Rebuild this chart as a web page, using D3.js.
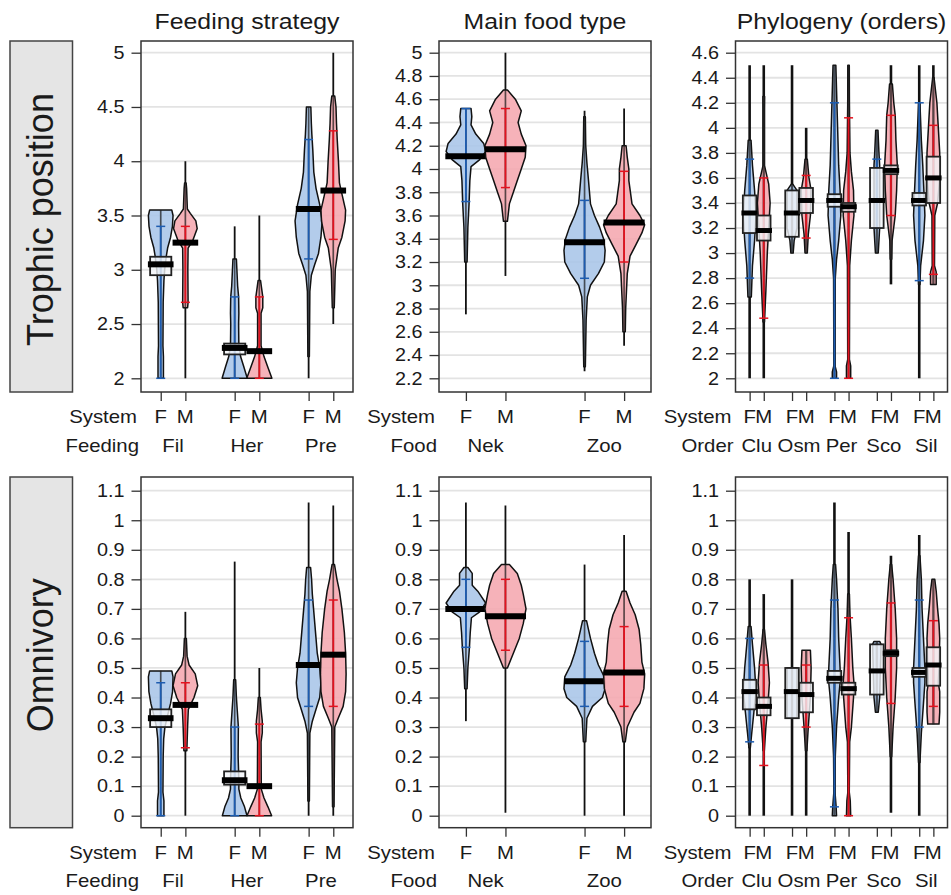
<!DOCTYPE html>
<html>
<head>
  <meta charset="utf-8">
  <title>Trophic position and omnivory</title>
  <script src="https://cdn.jsdelivr.net/npm/d3@7"></script>
  <style>
    body { margin: 0; background: #fff; }
    text { font-family: "Liberation Sans", Arial, sans-serif; fill: #1a1a1a; }
  </style>
</head>
<body>
<div id="vis"></div>
<script>

// ---- data ----
const rowLabels = ["Trophic position", "Omnivory"]
const panelTitles = ["Feeding strategy", "Main food type", "Phylogeny (orders)"]
const groupVars = ["Feeding", "Food", "Order"]
const systems = ["F", "M"]
const feedingGroups = ["Fil", "Her", "Pre"]
const foodGroups = ["Nek", "Zoo"]
const orderGroups = ["Clu", "Osm", "Per", "Sco", "Sil"]

const tpTicksFeeding = [2, 2.5, 3, 3.5, 4, 4.5, 5]
const tpTicksFood = [2.2, 2.4, 2.6, 2.8, 3, 3.2, 3.4, 3.6, 3.8, 4, 4.2, 4.4, 4.6, 4.8, 5]
const tpTicksOrder = [2, 2.2, 2.4, 2.6, 2.8, 3, 3.2, 3.4, 3.6, 3.8, 4, 4.2, 4.4, 4.6]
const omTicks = [0, 0.1, 0.2, 0.3, 0.4, 0.5, 0.6, 0.7, 0.8, 0.9, 1, 1.1]

// dens: [value, relative density], med: median, box / band: intervals, range: extent of the data
const tpFeeding = [
  { g: "Fil", s: "F", med: 3.05, box: [2.95, 3.12], band: [2.0, 3.4], range: [2.0, 3.55],
    dens: [[2.0, .22], [2.2, .22], [2.3, .18], [2.7, .2], [2.9, .26], [3.0, .32], [3.13, .46], [3.2, .56], [3.3, .8], [3.4, .95], [3.5, 1], [3.55, .9]] },
  { g: "Fil", s: "M", med: 3.25, box: null, band: [2.7, 3.4], range: [2.0, 4.0],
    dens: [[2.65, .18], [2.7, .22], [3.0, .2], [3.2, .22], [3.27, .6], [3.38, .96], [3.45, .85], [3.52, .4], [3.56, .16], [3.75, .1], [3.8, .06]] },
  { g: "Her", s: "F", med: 2.28, box: [2.22, 2.32], band: [2.0, 2.75], range: [2.0, 3.4],
    dens: [[2.0, 1.02], [2.1, .76], [2.2, .48], [2.3, .34], [2.5, .32], [2.6, .34], [2.75, .32], [2.85, .24], [3.0, .18], [3.1, .14]] },
  { g: "Her", s: "M", med: 2.25, box: null, band: [2.0, 2.75], range: [2.0, 3.5],
    dens: [[2.0, 1.02], [2.1, .7], [2.2, .38], [2.3, .14], [2.6, .14], [2.65, .28], [2.75, .28], [2.85, .16], [2.9, .1]] },
  { g: "Pre", s: "F", med: 3.56, box: null, band: [3.1, 4.2], range: [2.0, 4.5],
    dens: [[2.2, .06], [2.8, .1], [2.95, .22], [3.05, .5], [3.15, .8], [3.3, 1], [3.45, 1.1], [3.6, .9], [3.75, .6], [3.9, .42], [4.1, .34], [4.25, .26], [4.35, .22], [4.5, .18]] },
  { g: "Pre", s: "M", med: 3.73, box: null, band: [3.28, 4.28], range: [2.5, 5.0],
    dens: [[2.65, .08], [3.0, .16], [3.2, .4], [3.3, .7], [3.45, .96], [3.55, 1], [3.7, .7], [3.8, .5], [4.0, .42], [4.2, .32], [4.35, .26], [4.5, .22], [4.6, .12]] }
]

const tpFood = [
  { g: "Nek", s: "F", med: 4.11, box: null, band: [3.72, 4.52], range: [2.75, 4.52],
    dens: [[3.2, .06], [3.5, .1], [3.7, .16], [3.9, .2], [4.02, .26], [4.08, .7], [4.15, 1], [4.22, .9], [4.3, .5], [4.38, .26], [4.45, .3], [4.52, .26]] },
  { g: "Nek", s: "M", med: 4.17, box: null, band: [3.84, 4.52], range: [3.08, 5.0],
    dens: [[3.55, .1], [3.7, .2], [3.8, .4], [3.9, .6], [4.0, .8], [4.1, 1], [4.2, 1.04], [4.3, .8], [4.4, .64], [4.5, .8], [4.6, .5], [4.68, .1]] },
  { g: "Zoo", s: "F", med: 3.37, box: null, band: [3.06, 3.73], range: [2.26, 4.5],
    dens: [[2.3, .04], [2.7, .08], [2.9, .14], [3.0, .3], [3.1, .7], [3.2, 1], [3.3, 1.04], [3.4, .96], [3.5, .76], [3.6, .5], [3.7, .3], [3.9, .2], [4.05, .12], [4.2, .06], [4.45, .04]] },
  { g: "Zoo", s: "M", med: 3.54, box: null, band: [3.2, 3.98], range: [2.48, 4.52],
    dens: [[2.6, .06], [2.8, .08], [3.1, .16], [3.25, .3], [3.35, .6], [3.45, .9], [3.52, 1.04], [3.6, .8], [3.7, .4], [3.9, .24], [4.0, .24], [4.1, .16], [4.2, .1]] }
]

const tpOrder = [
  { g: "Clu", s: "F", med: 3.32, box: [3.16, 3.46], band: [2.8, 3.75], range: [2.0, 4.5],
    dens: [[2.65, .24], [2.9, .4], [3.1, .7], [3.3, .9], [3.5, .7], [3.7, .4], [3.9, .2]] },
  { g: "Clu", s: "M", med: 3.18, box: [3.1, 3.3], band: [2.48, 3.6], range: [2.0, 4.5],
    dens: [[2.45, .1], [2.7, .3], [3.0, .5], [3.2, .7], [3.4, .9], [3.55, .7], [3.65, .3], [3.7, .1], [4.15, .1], [4.25, .12]] },
  { g: "Osm", s: "F", med: 3.32, box: [3.13, 3.5], band: null, range: [3.0, 4.5],
    dens: [[3.0, .16], [3.1, .3], [3.2, .7], [3.5, .7], [3.55, .1]] },
  { g: "Osm", s: "M", med: 3.42, box: [3.32, 3.52], band: [3.12, 3.62], range: [3.0, 4.0],
    dens: [[3.0, .16], [3.15, .3], [3.3, .6], [3.5, .7], [3.6, .4], [3.75, .16]] },
  { g: "Per", s: "F", med: 3.42, box: [3.37, 3.47], band: [2.0, 4.2], range: [2.0, 4.5],
    dens: [[2.0, .3], [2.05, .3], [2.1, .08], [2.8, .12], [2.95, .3], [3.1, .6], [3.3, .9], [3.5, .8], [3.7, .6], [3.9, .5], [4.1, .4], [4.3, .3], [4.5, .2]] },
  { g: "Per", s: "M", med: 3.37, box: [3.33, 3.4], band: [2.0, 4.08], range: [2.0, 4.5],
    dens: [[2.0, .3], [2.1, .3], [2.15, .12], [2.9, .16], [3.1, .4], [3.3, .76], [3.5, .7], [3.65, .4], [3.8, .2], [4.2, .12], [4.5, .1]] },
  { g: "Sco", s: "F", med: 3.42, box: [3.2, 3.68], band: [3.2, 3.75], range: [3.0, 3.98],
    dens: [[3.0, .2], [3.2, .4], [3.7, .4], [3.8, .3], [3.98, .16]] },
  { g: "Sco", s: "M", med: 3.66, box: [3.63, 3.7], band: [3.3, 4.1], range: [2.75, 4.5],
    dens: [[2.95, .1], [3.1, .16], [3.3, .6], [3.5, .8], [3.7, .9], [3.9, .7], [4.1, .6], [4.2, .4], [4.35, .2]] },
  { g: "Sil", s: "F", med: 3.42, box: [3.38, 3.48], band: [2.78, 4.2], range: [2.0, 4.5],
    dens: [[2.75, .1], [2.9, .2], [3.1, .6], [3.3, .8], [3.45, .7], [3.7, .5], [3.9, .3], [4.2, .1]] },
  { g: "Sil", s: "M", med: 3.6, box: [3.4, 3.77], band: [2.83, 4.02], range: [2.75, 4.5],
    dens: [[2.75, .4], [2.85, .4], [2.9, .16], [3.3, .2], [3.4, .6], [3.6, .9], [3.8, .9], [4.0, .7], [4.2, .5], [4.3, .3], [4.4, .1]] }
]

const omFeeding = [
  { g: "Fil", s: "F", med: .33, box: [.3, .36], band: [0, .45], range: [0, .49],
    dens: [[0, .26], [.05, .26], [.08, .18], [.2, .2], [.26, .24], [.3, .34], [.34, .56], [.38, .8], [.42, .96], [.47, 1], [.49, .9]] },
  { g: "Fil", s: "M", med: .375, box: null, band: [.23, .45], range: [0, .69],
    dens: [[.22, .12], [.3, .18], [.36, .24], [.4, .7], [.44, 1], [.48, .8], [.51, .3], [.54, .14], [.6, .08]] },
  { g: "Her", s: "F", med: .12, box: [.105, .15], band: [0, .3], range: [0, .86],
    dens: [[0, 1], [.03, .8], [.06, .5], [.09, .34], [.12, .34], [.2, .28], [.3, .3], [.35, .22], [.4, .14], [.46, .08]] },
  { g: "Her", s: "M", med: .1, box: null, band: [0, .31], range: [0, .5],
    dens: [[0, 1], [.03, .7], [.06, .38], [.09, .16], [.25, .14], [.28, .24], [.32, .24], [.36, .14], [.4, .08]] },
  { g: "Pre", s: "F", med: .51, box: null, band: [.37, .73], range: [0, 1.06],
    dens: [[.05, .06], [.28, .1], [.32, .3], [.36, .6], [.4, .9], [.45, 1], [.5, .9], [.55, .7], [.6, .6], [.65, .5], [.7, .4], [.75, .3], [.8, .24], [.84, .16]] },
  { g: "Pre", s: "M", med: .545, box: null, band: [.37, .73], range: [0, 1.05],
    dens: [[.03, .06], [.3, .12], [.33, .4], [.37, .8], [.42, 1], [.48, 1.04], [.55, 1], [.62, .9], [.7, .7], [.76, .5], [.8, .3], [.85, .1]] }
]

const omFood = [
  { g: "Nek", s: "F", med: .7, box: null, band: [.57, .8], range: [.32, 1.06],
    dens: [[.43, .06], [.5, .1], [.57, .18], [.62, .22], [.67, .28], [.69, .7], [.72, 1], [.76, .6], [.78, .32], [.82, .32], [.84, .1]] },
  { g: "Nek", s: "M", med: .675, box: null, band: [.56, .8], range: [.01, 1.05],
    dens: [[.5, .1], [.55, .4], [.6, .7], [.65, .9], [.7, 1.04], [.75, .9], [.78, .8], [.82, .6], [.85, .2]] },
  { g: "Zoo", s: "F", med: .455, box: null, band: [.37, .59], range: [0, .85],
    dens: [[.25, .06], [.33, .12], [.37, .4], [.4, .9], [.43, 1.04], [.47, 1], [.51, .7], [.55, .5], [.6, .3], [.63, .2], [.66, .1]] },
  { g: "Zoo", s: "M", med: .485, box: null, band: [.37, .64], range: [0, .95],
    dens: [[.25, .06], [.3, .16], [.35, .5], [.38, .8], [.43, 1], [.48, 1.04], [.52, .9], [.58, .84], [.63, .76], [.68, .56], [.72, .3], [.76, .1]] }
]

const omOrder = [
  { g: "Clu", s: "F", med: .42, box: [.36, .46], band: [.25, .6], range: [0, .8],
    dens: [[.23, .1], [.28, .3], [.35, .6], [.42, .9], [.5, .7], [.58, .4], [.64, .2]] },
  { g: "Clu", s: "M", med: .37, box: [.34, .4], band: [.17, .51], range: [0, .75],
    dens: [[.22, .08], [.3, .3], [.38, .6], [.45, .8], [.52, .6], [.58, .3], [.63, .1]] },
  { g: "Osm", s: "F", med: .42, box: [.33, .5], band: null, range: [0, .8],
    dens: [[.33, .7], [.5, .7]] },
  { g: "Osm", s: "M", med: .41, box: [.35, .45], band: [.3, .51], range: [0, .56],
    dens: [[.22, .1], [.3, .3], [.4, .6], [.5, .7], [.56, .6]] },
  { g: "Per", s: "F", med: .465, box: [.45, .49], band: [.03, .73], range: [0, 1.06],
    dens: [[0, .3], [.03, .24], [.08, .08], [.2, .12], [.3, .3], [.4, .6], [.45, .8], [.5, .8], [.6, .6], [.7, .5], [.8, .3], [.85, .16]] },
  { g: "Per", s: "M", med: .43, box: [.41, .45], band: [0, .67], range: [0, .96],
    dens: [[0, .3], [.05, .24], [.08, .1], [.25, .16], [.3, .4], [.4, .7], [.45, .76], [.5, .6], [.6, .4], [.68, .2], [.75, .12]] },
  { g: "Sco", s: "F", med: .49, box: [.41, .58], band: null, range: [.35, .59],
    dens: [[.35, .2], [.4, .4], [.58, .6], [.59, .4]] },
  { g: "Sco", s: "M", med: .55, box: [.54, .56], band: [.38, .72], range: [.01, .88],
    dens: [[.2, .1], [.3, .3], [.4, .6], [.5, .8], [.6, .8], [.7, .6], [.8, .3], [.85, .1]] },
  { g: "Sil", s: "F", med: .485, box: [.47, .5], band: [.3, .73], range: [0, .95],
    dens: [[.18, .1], [.28, .3], [.38, .6], [.45, .8], [.5, .8], [.6, .6], [.7, .4], [.8, .3], [.88, .1]] },
  { g: "Sil", s: "M", med: .51, box: [.44, .57], band: [.37, .66], range: [.31, .8],
    dens: [[.31, .8], [.35, .9], [.42, .9], [.45, .7], [.5, .8], [.6, .9], [.65, .8], [.7, .6], [.76, .4], [.8, .2]] }
]

// ---- layout ----
const width = 951
const height = 895
const cols = [{ l: 141, r: 353 }, { l: 439, r: 651 }, { l: 735.5, r: 947.5 }]
const rows = [{ t: 41, b: 392, y0: 378.3, y1: 52.7 }, { t: 477, b: 827.7, y0: 815.7, y1: 490.7 }]
const xDomains = [[0.2, 8.8], [0.32, 5.68], [0, 15]]

const fills = { F: "#a9c5e8", M: "#f5a7af" }
const bandCol = { F: "#1d5cb0", M: "#e3121f" }

const panels = [
  { row: 0, col: 0, groups: feedingGroups, beans: tpFeeding, ticks: tpTicksFeeding, dom: [2, 5] },
  { row: 0, col: 1, groups: foodGroups, beans: tpFood, ticks: tpTicksFood, dom: [2.2, 5] },
  { row: 0, col: 2, groups: orderGroups, beans: tpOrder, ticks: tpTicksOrder, dom: [2, 4.6] },
  { row: 1, col: 0, groups: feedingGroups, beans: omFeeding, ticks: omTicks, dom: [0, 1.1] },
  { row: 1, col: 1, groups: foodGroups, beans: omFood, ticks: omTicks, dom: [0, 1.1] },
  { row: 1, col: 2, groups: orderGroups, beans: omOrder, ticks: omTicks, dom: [0, 1.1] }
]

const svg = d3.select("#vis").append("svg")
  .attr("width", width)
  .attr("height", height)

// the lettering of the original is a little wider than Arial
function stretch(sel, f) {
  sel.each(function () {
    const len = this.getComputedTextLength()
    d3.select(this).attr("textLength", len * f).attr("lengthAdjust", "spacingAndGlyphs")
  })
}

// row labels in grey boxes
rows.forEach((rw, i) => {
  svg.append("rect")
    .attr("x", 10).attr("y", rw.t)
    .attr("width", 62.5).attr("height", rw.b - rw.t)
    .attr("fill", "#e5e5e5").attr("stroke", "#444").attr("stroke-width", 1.5)
  svg.append("text")
    .attr("transform", `translate(53,${(rw.t + rw.b) / 2 + 3}) rotate(-90)`)
    .attr("text-anchor", "middle")
    .style("font-size", "36px")
    .text(rowLabels[i])
})

panels.forEach(p => {
  const c = cols[p.col]
  const rw = rows[p.row]
  const x = d3.scaleLinear().domain(xDomains[p.col]).range([c.l, c.r])
  const y = d3.scaleLinear().domain(p.dom).range([rw.y0, rw.y1])
  const unit = x(1) - x(0)
  const narrow = p.col === 2
  const pos = b => p.groups.indexOf(b.g) * 3 + systems.indexOf(b.s) + 1
  const g = svg.append("g")

  // grid
  g.append("g").selectAll("line").data(p.ticks).join("line")
    .attr("x1", c.l).attr("x2", c.r)
    .attr("y1", d => y(d)).attr("y2", d => y(d))
    .attr("stroke", "#e3e3e3").attr("stroke-width", 1.8)

  // y axis
  const ya = g.append("g")
    .attr("transform", `translate(${c.l},0)`)
    .call(d3.axisLeft(y).tickValues(p.ticks).tickSize(9.5).tickPadding(7).tickFormat(d3.format("~g")))
  ya.select(".domain").remove()
  ya.selectAll("line").attr("stroke", "#333").attr("stroke-width", 1.3)
  ya.selectAll("text").style("font-size", "18px").attr("fill", "#1a1a1a").attr("font-family", null)
  stretch(ya.selectAll("text"), 1.1)

  // x axis ticks
  const positions = p.beans.map(pos)
  const xa = g.append("g")
    .attr("transform", `translate(0,${rw.b})`)
    .call(d3.axisBottom(x).tickValues(positions).tickSize(9).tickFormat(""))
  xa.select(".domain").remove()
  xa.selectAll("line").attr("stroke", "#333").attr("stroke-width", 1.3)

  // beans
  const area = d3.area()
    .y(d => y(d[0]))
    .x0(d => -d[1] * 0.5 * unit)
    .x1(d => d[1] * 0.5 * unit)

  const bean = g.append("g").selectAll("g").data(p.beans).join("g")
    .attr("transform", d => `translate(${x(pos(d))},0)`)

  bean.append("line")
    .attr("y1", d => y(d.range[0])).attr("y2", d => y(d.range[1]))
    .attr("stroke", "#111").attr("stroke-width", narrow ? 2.6 : 1.8)

  bean.append("path")
    .attr("d", d => area(d.dens))
    .attr("fill", d => fills[d.s])
    .attr("fill-opacity", 0.88)
    .attr("stroke", "#111").attr("stroke-width", 1.5)
    .attr("stroke-linejoin", "round")

  bean.append("line")
    .attr("y1", d => y(Math.max(d.range[0], d.dens[0][0]))).attr("y2", d => y(Math.min(d.range[1], d.dens[d.dens.length - 1][0])))
    .attr("stroke", "#222").attr("stroke-opacity", 0.7).attr("stroke-width", narrow ? 2.2 : 1.6)

  const band = bean.filter(d => d.band)
  band.append("line")
    .attr("y1", d => y(d.band[0])).attr("y2", d => y(d.band[1]))
    .attr("stroke", d => bandCol[d.s]).attr("stroke-width", 1.8)
  band.selectAll(".cap").data(d => d.band.map(v => ({ v, s: d.s }))).join("line")
    .attr("class", "cap")
    .attr("x1", -4.5).attr("x2", 4.5)
    .attr("y1", d => y(d.v)).attr("y2", d => y(d.v))
    .attr("stroke", d => bandCol[d.s]).attr("stroke-width", 1.5)

  const bw = narrow ? 0.48 : 0.43
  bean.filter(d => d.box).append("rect")
    .attr("x", -bw * unit).attr("width", 2 * bw * unit)
    .attr("y", d => y(d.box[1])).attr("height", d => y(d.box[0]) - y(d.box[1]))
    .attr("fill", "#f3f5f9").attr("fill-opacity", 0.8)
    .attr("stroke", "#222").attr("stroke-width", 1.8)

  const mw = narrow ? 0.58 : 0.52
  bean.append("line")
    .attr("x1", -mw * unit).attr("x2", mw * unit)
    .attr("y1", d => y(d.med)).attr("y2", d => y(d.med))
    .attr("stroke", "#000").attr("stroke-width", narrow ? 5 : 6)

  // frame
  g.append("rect")
    .attr("x", c.l).attr("y", rw.t)
    .attr("width", c.r - c.l).attr("height", rw.b - rw.t)
    .attr("fill", "none").attr("stroke", "#333").attr("stroke-width", 1.5)

  // x labels
  const lab = g.append("g").style("font-size", "18.5px")
  lab.append("text").attr("x", c.l - 4).attr("y", rw.b + 31.3)
    .attr("text-anchor", "end").text("System")
  lab.append("text").attr("x", c.l - 2).attr("y", rw.b + 59.7)
    .attr("text-anchor", "end").text(groupVars[p.col])
  lab.selectAll(".sys").data(p.beans).join("text")
    .attr("class", "sys")
    .attr("x", d => x(pos(d))).attr("y", rw.b + 31.3)
    .attr("text-anchor", "middle").text(d => d.s)
  lab.selectAll(".grp").data(p.groups).join("text")
    .attr("class", "grp")
    .attr("x", (d, i) => x(i * 3 + 1.5)).attr("y", rw.b + 59.7)
    .attr("text-anchor", "middle").text(d => d)
  stretch(lab.selectAll("text"), 1.1)

  if (p.row === 0) {
    const t = g.append("text")
      .attr("x", (c.l + c.r) / 2).attr("y", 29.3)
      .attr("text-anchor", "middle")
      .style("font-size", "21.4px")
      .text(panelTitles[p.col])
    stretch(t, 1.16)
  }
})
</script>
</body>
</html>
